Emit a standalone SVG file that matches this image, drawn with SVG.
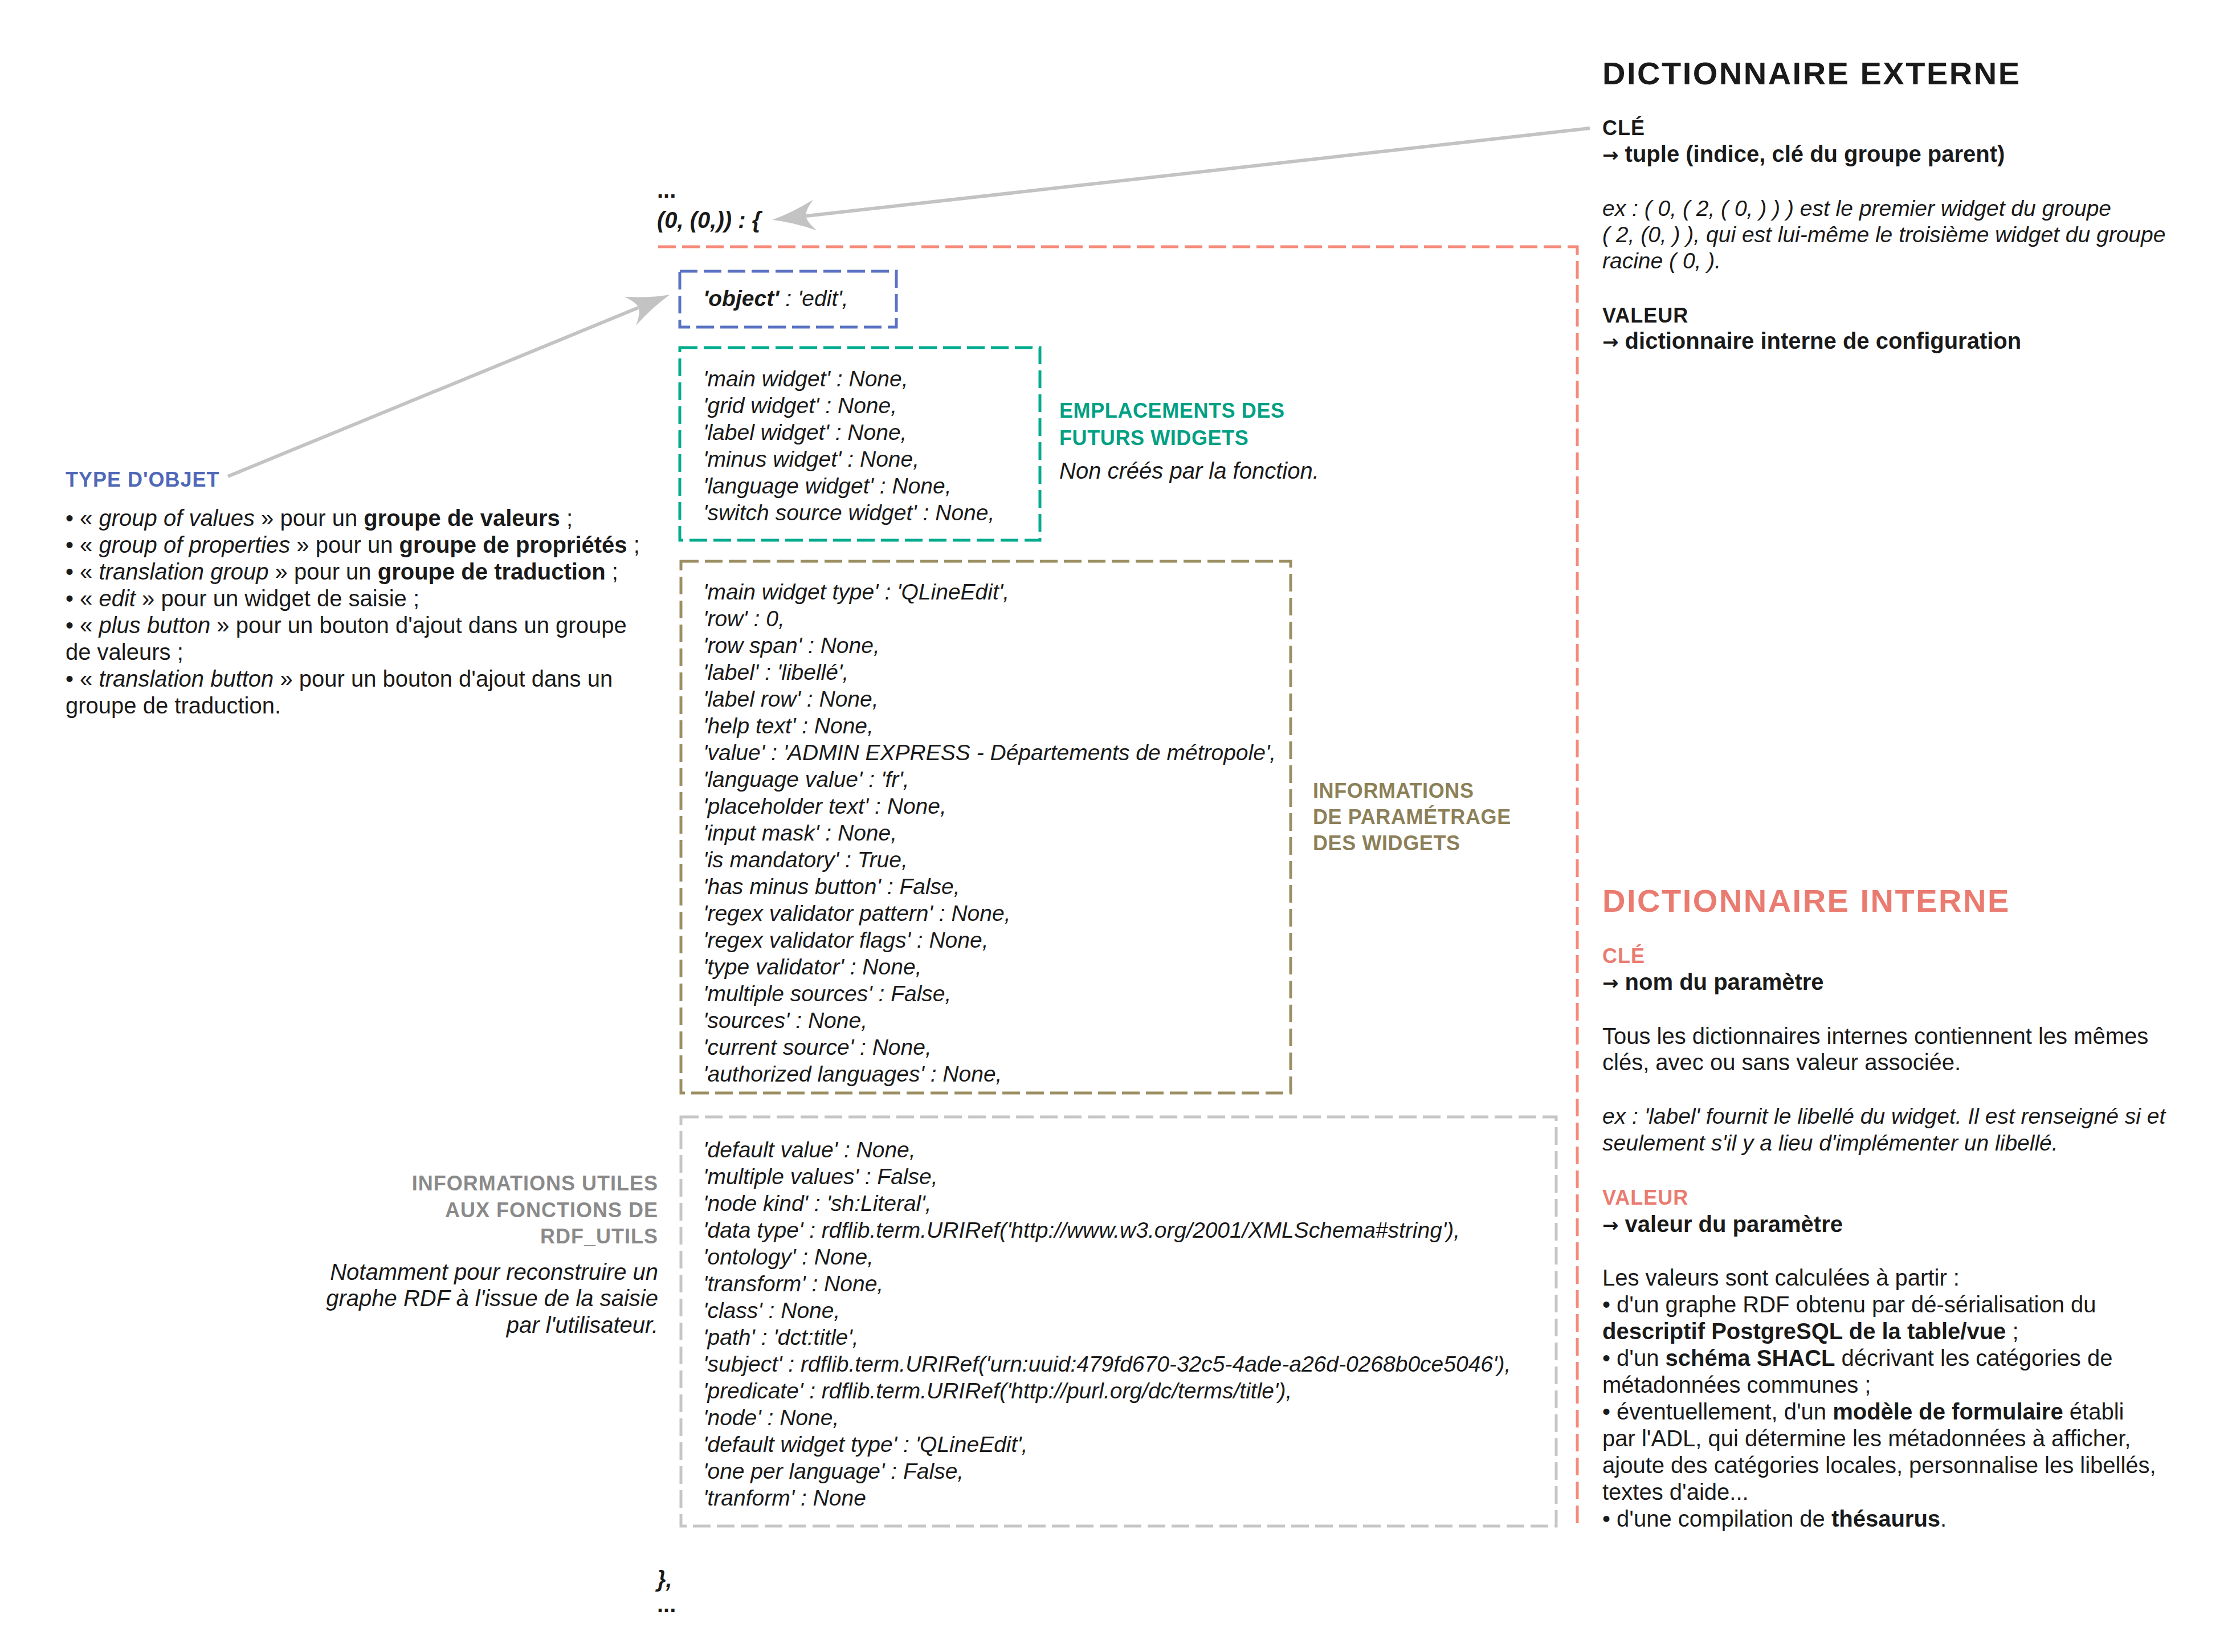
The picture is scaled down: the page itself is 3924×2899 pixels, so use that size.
<svg xmlns="http://www.w3.org/2000/svg" width="3924" height="2899" viewBox="0 0 3924 2899">
<style>
text{font-family:"Liberation Sans",Arial,sans-serif;font-size:40px;fill:#1a1a1a}
.i{font-style:italic}
.b{font-weight:bold}
.ri{font-style:italic;font-size:39px}
.arr{font-family:"DejaVu Sans",sans-serif;font-weight:bold;font-size:34px}
.code{font-size:39px;font-style:italic}
.h{font-weight:bold;font-size:36px;letter-spacing:1px}
.h2{font-weight:bold;font-size:36px;letter-spacing:0.6px}
.title{font-weight:bold;font-size:56px;letter-spacing:2.5px}
.box{fill:none;stroke-width:5;stroke-dasharray:31 11}
.blue{fill:#4F68B8}
.green{fill:#00A083}
.olive{fill:#8C8058}
.grey{fill:#8A8A8A}
.salmon{fill:#EA7B70}
.conn{fill:none;stroke:#C3C3C3;stroke-width:6}
</style>
<defs>
<marker id="head" markerUnits="userSpaceOnUse" viewBox="-20 -30 90 60" refX="0" refY="0" markerWidth="90" markerHeight="60" orient="auto" overflow="visible">
<path d="M60,0 Q25,-8 -15,-27 Q2,-8 0,0 Q2,8 -15,27 Q25,8 60,0 Z" fill="#C3C3C3"/>
</marker>
</defs>
<rect width="3924" height="2899" fill="#ffffff"/>

<g id="connectors">
<path class="conn" d="M2790,225 L1415,379" marker-end="url(#head)"/>
<path class="conn" d="M400,836 L1120,540" marker-end="url(#head)"/>
</g>

<g id="external-dict">
<text class="title" x="2812" y="148">DICTIONNAIRE EXTERNE</text>
<text class="h" x="2812" y="237">CLÉ</text>
<text class="b" x="2812" y="284"><tspan class="arr">→</tspan> tuple (indice, clé du groupe parent)</text>
<text class="ri" x="2812" y="379">ex : ( 0, ( 2, ( 0, ) ) ) est le premier widget du groupe</text>
<text class="ri" x="2812" y="425">( 2, (0, ) ), qui est lui-même le troisième widget du groupe</text>
<text class="ri" x="2812" y="471">racine ( 0, ).</text>
<text class="h" x="2812" y="566">VALEUR</text>
<text class="b" x="2812" y="612"><tspan class="arr">→</tspan> dictionnaire interne de configuration</text>
</g>

<g id="internal-dict-frame">
<text class="b" x="1153" y="347">...</text>
<text class="b i" x="1153" y="400">(0, (0,)) : {</text>
<path class="box" d="M1155,433 H2768 V2680" stroke="#F58A7B"/>
<text class="b i" x="1153" y="2785">},</text>
<text class="b" x="1153" y="2829">...</text>
</g>

<g id="type-objet">
<text class="h blue" x="115" y="854">TYPE D'OBJET</text>
<text x="115" y="923">• « <tspan class="i">group of values</tspan> » pour un <tspan class="b">groupe de valeurs</tspan> ;</text>
<text x="115" y="970">• « <tspan class="i">group of properties</tspan> » pour un <tspan class="b">groupe de propriétés</tspan> ;</text>
<text x="115" y="1017">• « <tspan class="i">translation group</tspan> » pour un <tspan class="b">groupe de traduction</tspan> ;</text>
<text x="115" y="1064">• « <tspan class="i">edit</tspan> » pour un widget de saisie ;</text>
<text x="115" y="1111">• « <tspan class="i">plus button</tspan> » pour un bouton d'ajout dans un groupe</text>
<text x="115" y="1158">de valeurs ;</text>
<text x="115" y="1205">• « <tspan class="i">translation button</tspan> » pour un bouton d'ajout dans un</text>
<text x="115" y="1252">groupe de traduction.</text>
</g>

<g id="object-box">
<rect class="box" x="1193" y="476" width="380" height="98" stroke="#5A72C4"/>
<text class="code" x="1234" y="537"><tspan class="b">'object'</tspan> : 'edit',</text>
</g>

<g id="widgets-box">
<rect class="box" x="1193" y="610" width="632" height="338" stroke="#00AB8E"/>
<text class="code" x="1234" y="678">'main widget' : None,</text>
<text class="code" x="1234" y="725">'grid widget' : None,</text>
<text class="code" x="1234" y="772">'label widget' : None,</text>
<text class="code" x="1234" y="819">'minus widget' : None,</text>
<text class="code" x="1234" y="866">'language widget' : None,</text>
<text class="code" x="1234" y="913">'switch source widget' : None,</text>
<text class="h2 green" x="1859" y="733">EMPLACEMENTS DES</text>
<text class="h2 green" x="1859" y="781">FUTURS WIDGETS</text>
<text class="i" x="1859" y="840">Non créés par la fonction.</text>
</g>

<g id="params-box">
<rect class="box" x="1195" y="985" width="1070" height="933" stroke="#9B8F63"/>
<text class="code" x="1234" y="1052">'main widget type' : 'QLineEdit',</text>
<text class="code" x="1234" y="1099">'row' : 0,</text>
<text class="code" x="1234" y="1146">'row span' : None,</text>
<text class="code" x="1234" y="1193">'label' : 'libellé',</text>
<text class="code" x="1234" y="1240">'label row' : None,</text>
<text class="code" x="1234" y="1287">'help text' : None,</text>
<text class="code" x="1234" y="1334">'value' : 'ADMIN EXPRESS - Départements de métropole',</text>
<text class="code" x="1234" y="1381">'language value' : 'fr',</text>
<text class="code" x="1234" y="1428">'placeholder text' : None,</text>
<text class="code" x="1234" y="1475">'input mask' : None,</text>
<text class="code" x="1234" y="1522">'is mandatory' : True,</text>
<text class="code" x="1234" y="1569">'has minus button' : False,</text>
<text class="code" x="1234" y="1616">'regex validator pattern' : None,</text>
<text class="code" x="1234" y="1663">'regex validator flags' : None,</text>
<text class="code" x="1234" y="1710">'type validator' : None,</text>
<text class="code" x="1234" y="1757">'multiple sources' : False,</text>
<text class="code" x="1234" y="1804">'sources' : None,</text>
<text class="code" x="1234" y="1851">'current source' : None,</text>
<text class="code" x="1234" y="1898">'authorized languages' : None,</text>
<text class="h2 olive" x="2304" y="1400">INFORMATIONS</text>
<text class="h2 olive" x="2304" y="1446">DE PARAMÉTRAGE</text>
<text class="h2 olive" x="2304" y="1492">DES WIDGETS</text>
</g>

<g id="rdf-box">
<rect class="box" x="1195" y="1960" width="1536" height="718" stroke="#C6C6C6"/>
<text class="code" x="1234" y="2031">'default value' : None,</text>
<text class="code" x="1234" y="2078">'multiple values' : False,</text>
<text class="code" x="1234" y="2125">'node kind' : 'sh:Literal',</text>
<text class="code" x="1234" y="2172">'data type' : rdflib.term.URIRef('http://www.w3.org/2001/XMLSchema#string'),</text>
<text class="code" x="1234" y="2219">'ontology' : None,</text>
<text class="code" x="1234" y="2266">'transform' : None,</text>
<text class="code" x="1234" y="2313">'class' : None,</text>
<text class="code" x="1234" y="2360">'path' : 'dct:title',</text>
<text class="code" x="1234" y="2407">'subject' : rdflib.term.URIRef('urn:uuid:479fd670-32c5-4ade-a26d-0268b0ce5046'),</text>
<text class="code" x="1234" y="2454">'predicate' : rdflib.term.URIRef('http://purl.org/dc/terms/title'),</text>
<text class="code" x="1234" y="2501">'node' : None,</text>
<text class="code" x="1234" y="2548">'default widget type' : 'QLineEdit',</text>
<text class="code" x="1234" y="2595">'one per language' : False,</text>
<text class="code" x="1234" y="2642">'tranform' : None</text>
<g text-anchor="end">
<text class="h grey" x="1155" y="2089">INFORMATIONS UTILES</text>
<text class="h grey" x="1155" y="2136">AUX FONCTIONS DE</text>
<text class="h grey" x="1155" y="2182">RDF_UTILS</text>
<text class="i" x="1155" y="2246">Notamment pour reconstruire un</text>
<text class="i" x="1155" y="2292">graphe RDF à l'issue de la saisie</text>
<text class="i" x="1155" y="2339">par l'utilisateur.</text>
</g>
</g>

<g id="internal-dict">
<text class="title salmon" x="2812" y="1600">DICTIONNAIRE INTERNE</text>
<text class="h salmon" x="2812" y="1690">CLÉ</text>
<text class="b" x="2812" y="1737"><tspan class="arr">→</tspan> nom du paramètre</text>
<text x="2812" y="1832">Tous les dictionnaires internes contiennent les mêmes</text>
<text x="2812" y="1878">clés, avec ou sans valeur associée.</text>
<text class="ri" x="2812" y="1972">ex : 'label' fournit le libellé du widget. Il est renseigné si et</text>
<text class="ri" x="2812" y="2019">seulement s'il y a lieu d'implémenter un libellé.</text>
<text class="h salmon" x="2812" y="2114">VALEUR</text>
<text class="b" x="2812" y="2162"><tspan class="arr">→</tspan> valeur du paramètre</text>
<text x="2812" y="2256">Les valeurs sont calculées à partir :</text>
<text x="2812" y="2303">• d'un graphe RDF obtenu par dé-sérialisation du</text>
<text x="2812" y="2350"><tspan class="b">descriptif PostgreSQL de la table/vue</tspan> ;</text>
<text x="2812" y="2397">• d'un <tspan class="b">schéma SHACL</tspan> décrivant les catégories de</text>
<text x="2812" y="2444">métadonnées communes ;</text>
<text x="2812" y="2491">• éventuellement, d'un <tspan class="b">modèle de formulaire</tspan> établi</text>
<text x="2812" y="2538">par l'ADL, qui détermine les métadonnées à afficher,</text>
<text x="2812" y="2585">ajoute des catégories locales, personnalise les libellés,</text>
<text x="2812" y="2632">textes d'aide...</text>
<text x="2812" y="2679">• d'une compilation de <tspan class="b">thésaurus</tspan>.</text>
</g>
</svg>
